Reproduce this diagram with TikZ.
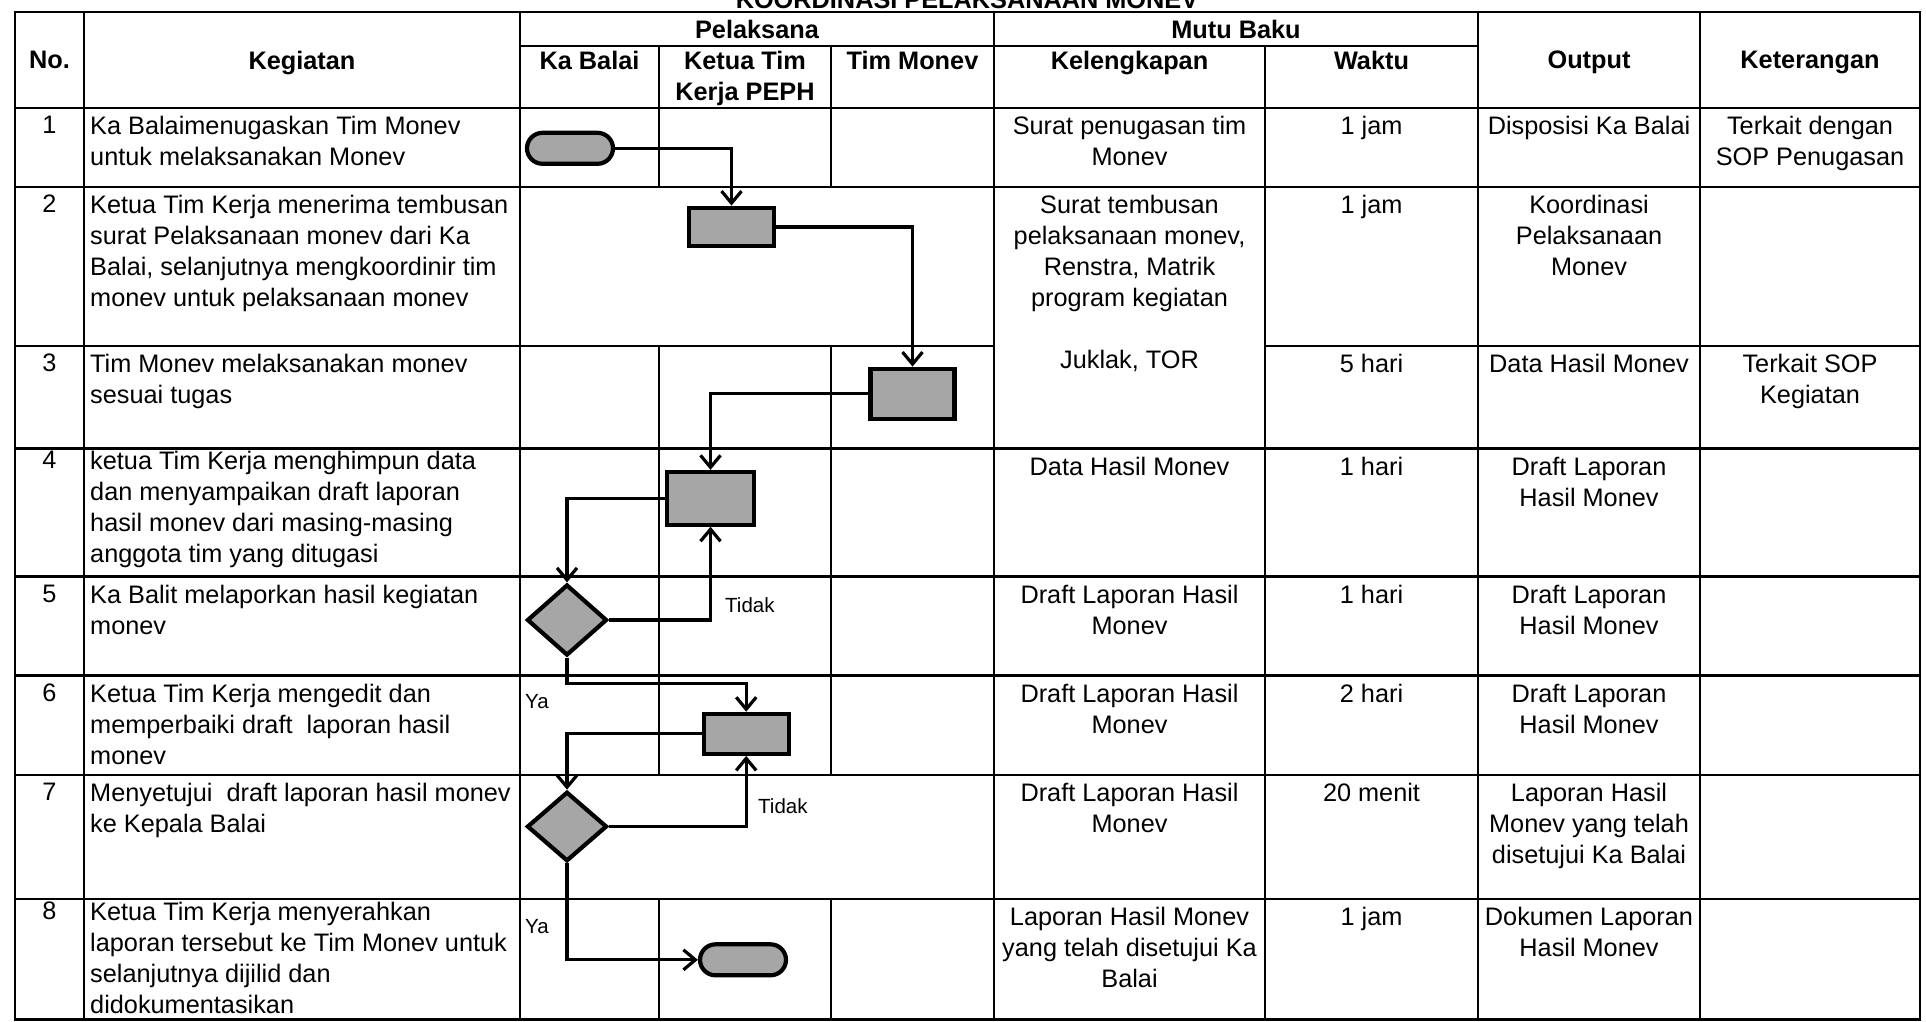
\documentclass[tikz,border=0pt]{standalone}
\usepackage{fontspec}
\setmainfont{Liberation Sans}
\usetikzlibrary{arrows.meta,shapes.geometric,shapes.misc}

\definecolor{shapegray}{RGB}{166,166,166}
\newcommand{\bodyfont}{\fontsize{25.3}{31}\selectfont}
\newcommand{\smallfont}{\fontsize{20.5}{24}\selectfont}

\begin{document}
\begin{tikzpicture}[x=1pt,y=-1pt,
    gridline/.style={line width=2.4pt,line cap=rect},
    headtext/.style={font=\bodyfont\bfseries,inner sep=0pt,anchor=north,align=center},
    celltext/.style={font=\bodyfont,inner sep=0pt,anchor=north,align=center},
    tasktext/.style={font=\bodyfont,inner sep=0pt,anchor=north west,align=left},
    chart/.style={draw,line width=4.2pt,fill=shapegray,inner sep=0pt},
    terminal/.style={chart,rounded rectangle,minimum width=86pt,minimum height=31pt},
    process/.style={chart,rectangle,minimum width=85pt},
    decision/.style={chart,diamond,minimum width=80pt,minimum height=71pt},
    flow/.style={line width=3.2pt,-{Straight Barb[length=12pt,width=20pt]}},
    hv/.style={to path={-| (\tikztotarget)}},
    vh/.style={to path={|- (\tikztotarget)}},
    answer/.style={font=\smallfont,inner sep=0pt,anchor=west}]

  \useasboundingbox (0,0) rectangle (1926,1021);

  % title, cut by the top edge
  \node[font=\bodyfont\bfseries,inner sep=0pt,anchor=base] (title) at (967,8)
    {KOORDINASI PELAKSANAAN MONEV};

  % table rules
  \draw[gridline] (15,12) -- (1920,12);
  \draw[gridline] (520,46) -- (1478,46);
  \foreach \y in {108,187,448.5,576.5,675.5,775,899,1019.5}
    \draw[gridline] (15,\y) -- (1920,\y);
  \draw[gridline] (15,346) -- (994,346) (1265,346) -- (1920,346);
  \foreach \x in {15,84,520,994,1478,1700,1920}
    \draw[gridline] (\x,12) -- (\x,1019.5);
  \draw[gridline] (1265,46) -- (1265,1019.5);
  \foreach \x in {659,831}
    \draw[gridline] (\x,46) -- (\x,187) (\x,346) -- (\x,775) (\x,899) -- (\x,1019.5);

  % header
  \node[headtext] (hNo)      at (49.5,51)  {No.};
  \node[headtext] (hKeg)     at (302,51)   {Kegiatan};
  \node[headtext] (hPel)     at (757,20)   {Pelaksana};
  \node[headtext] (hMutu)    at (1236,20)  {Mutu Baku};
  \node[headtext] (hKaBalai) at (589.5,51) {Ka Balai};
  \node[headtext] (hKetua)   at (745,51)   {Ketua Tim\\Kerja PEPH};
  \node[headtext] (hTim)     at (912.5,51) {Tim Monev};
  \node[headtext] (hKel)     at (1129.5,51) {Kelengkapan};
  \node[headtext] (hWaktu)   at (1371.5,51) {Waktu};
  \node[headtext] (hOut)     at (1589,51)  {Output};
  \node[headtext] (hKet)     at (1810,51)  {Keterangan};

  % step numbers
  \foreach \n/\t in {1/116,2/195,3/354,4/450.5,5/584.5,6/683.5,7/783,8/902}
    \node[celltext] (num\n) at (49.5,\t) {\n};

  % kegiatan
  \node[tasktext] (k1) at (90,116)   {Ka Balaimenugaskan Tim Monev\\untuk melaksanakan Monev};
  \node[tasktext] (k2) at (90,195)   {Ketua Tim Kerja menerima tembusan\\surat Pelaksanaan monev dari Ka\\Balai, selanjutnya mengkoordinir tim\\monev untuk pelaksanaan monev};
  \node[tasktext] (k3) at (90,354)   {Tim Monev melaksanakan monev\\sesuai tugas};
  \node[tasktext] (k4) at (90,450.5) {ketua Tim Kerja menghimpun data\\dan menyampaikan draft laporan\\hasil monev dari masing-masing\\anggota tim yang ditugasi};
  \node[tasktext] (k5) at (90,584.5) {Ka Balit melaporkan hasil kegiatan\\monev};
  \node[tasktext] (k6) at (90,683.5) {Ketua Tim Kerja mengedit dan\\memperbaiki draft~ laporan hasil\\monev};
  \node[tasktext] (k7) at (90,783)   {Menyetujui~ draft laporan hasil monev\\ke Kepala Balai};
  \node[tasktext] (k8) at (90,902)   {Ketua Tim Kerja menyerahkan\\laporan tersebut ke Tim Monev untuk\\selanjutnya dijilid dan\\didokumentasikan};

  % kelengkapan
  \node[celltext] (kel1) at (1129.5,116)   {Surat penugasan tim\\Monev};
  \node[celltext] (kel2) at (1129.5,195)   {Surat tembusan\\pelaksanaan monev,\\Renstra, Matrik\\program kegiatan\\[31pt]Juklak, TOR};
  \node[celltext] (kel4) at (1129.5,456.5) {Data Hasil Monev};
  \node[celltext] (kel5) at (1129.5,584.5) {Draft Laporan Hasil\\Monev};
  \node[celltext] (kel6) at (1129.5,683.5) {Draft Laporan Hasil\\Monev};
  \node[celltext] (kel7) at (1129.5,783)   {Draft Laporan Hasil\\Monev};
  \node[celltext] (kel8) at (1129.5,907)   {Laporan Hasil Monev\\yang telah disetujui Ka\\Balai};

  % waktu
  \foreach \n/\t/\w in {1/116/1 jam,2/195/1 jam,3/354/5 hari,4/456.5/1 hari,
                        5/584.5/1 hari,6/683.5/2 hari,7/783/20 menit,8/907/1 jam}
    \node[celltext] (w\n) at (1371.5,\t) {\w};

  % output
  \node[celltext] (out1) at (1589,116)   {Disposisi Ka Balai};
  \node[celltext] (out2) at (1589,195)   {Koordinasi\\Pelaksanaan\\Monev};
  \node[celltext] (out3) at (1589,354)   {Data Hasil Monev};
  \node[celltext] (out4) at (1589,456.5) {Draft Laporan\\Hasil Monev};
  \node[celltext] (out5) at (1589,584.5) {Draft Laporan\\Hasil Monev};
  \node[celltext] (out6) at (1589,683.5) {Draft Laporan\\Hasil Monev};
  \node[celltext] (out7) at (1589,783)   {Laporan Hasil\\Monev yang telah\\disetujui Ka Balai};
  \node[celltext] (out8) at (1589,907)   {Dokumen Laporan\\Hasil Monev};

  % keterangan
  \node[celltext] (ket1) at (1810,116) {Terkait dengan\\SOP Penugasan};
  \node[celltext] (ket3) at (1810,354) {Terkait SOP\\Kegiatan};

  % flowchart
  \node[terminal]                                       (start)  at (570,148.3)   {};
  \node[process,minimum height=38.6pt]                  (coord)  at (731.5,227)   {};
  \node[process,minimum height=50pt,minimum width=84pt] (monev)  at (912.5,393.7) {};
  \node[process,minimum height=52.7pt,minimum width=87pt] (himpun) at (710.5,498.3) {};
  \node[decision]                                       (lapor)  at (567,620)     {};
  \node[process,minimum height=40pt]                    (edit)   at (746.2,733.8) {};
  \node[decision,minimum height=69.5pt]                 (setuju) at (567,826.5)   {};
  \node[terminal]                                       (finish) at (743,959.8)   {};

  \path[flow] (start)  edge[hv] (coord)
              (coord)  edge[hv] (monev)
              (monev)  edge[hv] (himpun)
              (himpun) edge[hv] (lapor)
              (lapor)  edge[hv] (himpun)
              (edit)   edge[hv] (setuju)
              (setuju) edge[hv] (edit)
              (setuju) edge[vh] (finish);
  \draw[flow] (lapor.south) -- ++(0,26) -| (edit);

  \node[answer] (tidak1) at (725,605)   {Tidak};
  \node[answer] (tidak2) at (758,806)   {Tidak};
  \node[answer] (ya1)    at (525,701.7) {Ya};
  \node[answer] (ya2)    at (525,926.7) {Ya};
\end{tikzpicture}
\end{document}
